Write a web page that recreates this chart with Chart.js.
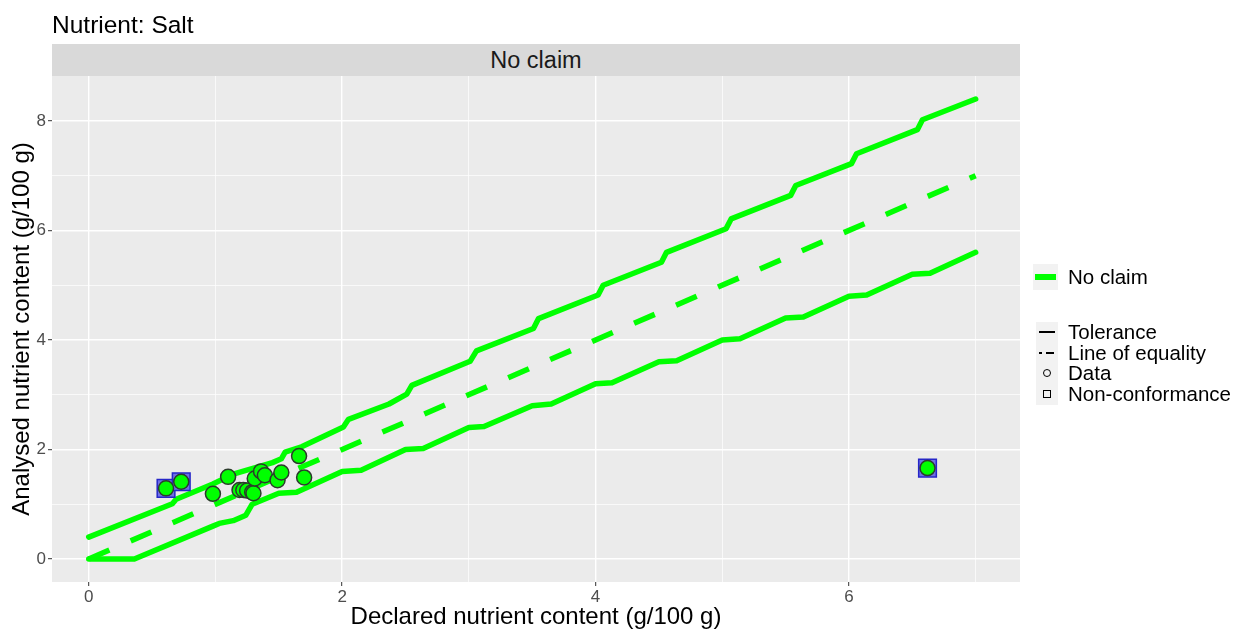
<!DOCTYPE html>
<html>
<head>
<meta charset="utf-8">
<script src="https://cdn.jsdelivr.net/npm/chart.js@4"></script>
<style>
  body { margin: 0; background: #fff; font-family: "Liberation Sans", Arial, sans-serif; }
  #wrap { position: relative; width: 1246px; height: 630px; overflow: hidden; }
  #chart { position: absolute; left: 0; top: 0; }
  .abs { position: absolute; }
  .title { left: 52px; top: 9px; font-size: 24.5px; line-height: 32px; color: #000; }
  .strip { left: 52px; top: 44px; width: 968px; height: 32px; background: #d9d9d9;
           text-align: center; font-size: 23.5px; line-height: 32px; color: #1a1a1a; }
  .lt { left: 1068px; font-size: 20.5px; line-height: 22px; color: #000; white-space: nowrap; }
</style>
</head>
<body>
<div id="wrap">
  <canvas id="chart" width="1246" height="630"></canvas>
  <div class="abs title">Nutrient: Salt</div>
  <div class="abs strip">No claim</div>

  <!-- legend: colour -->
  <div class="abs" style="left:1033px;top:264px;width:25px;height:26px;background:#f2f2f2"></div>
  <div class="abs" style="left:1035px;top:274px;width:21px;height:5.5px;background:#00ff00"></div>
  <div class="abs lt" style="top:266px">No claim</div>

  <!-- legend: line / shape types -->
  <div class="abs" style="left:1036px;top:322px;width:22px;height:83px;background:#f2f2f2"></div>
  <div class="abs" style="left:1039px;top:331px;width:16px;height:2px;background:#000"></div>
  <div class="abs" style="left:1039px;top:352px;width:3px;height:2px;background:#000"></div>
  <div class="abs" style="left:1046px;top:352px;width:8px;height:2px;background:#000"></div>
  <div class="abs" style="left:1043px;top:369px;width:6px;height:6px;border:1.5px solid #000;border-radius:50%"></div>
  <div class="abs" style="left:1043px;top:390px;width:6px;height:6px;border:1.5px solid #000"></div>
  <div class="abs lt" style="top:321px">Tolerance</div>
  <div class="abs lt" style="top:342px">Line of equality</div>
  <div class="abs lt" style="top:362px">Data</div>
  <div class="abs lt" style="top:383px">Non-conformance</div>
</div>

<script>
// measured samples (declared vs analysed, g/100 g)
const declared = [0.98, 1.10, 1.19, 1.22, 1.25, 1.29, 1.30, 1.31, 1.36, 1.39, 1.49, 1.52, 1.66, 1.70, 0.61, 0.73, 6.62];
const analysed = [1.19, 1.50, 1.26, 1.26, 1.25, 1.22, 1.20, 1.47, 1.60, 1.53, 1.44, 1.58, 1.88, 1.49, 1.29, 1.41, 1.66];

// samples outside tolerance
const ncDeclared = [0.61, 0.73, 6.62];
const ncAnalysed = [1.29, 1.41, 1.66];

// tolerance limits
const upperX = [0, 0.66, 0.69, 0.98, 1.14, 1.45, 1.52, 1.55, 1.68, 2.01, 2.05, 2.37, 2.51, 2.55, 3.01, 3.06, 3.51, 3.55, 4.02, 4.06, 4.52, 4.56, 5.03, 5.07, 5.54, 5.58, 6.02, 6.06, 6.54, 6.58, 7.0];
const upperY = [0.40, 1.01, 1.09, 1.37, 1.55, 1.76, 1.83, 1.95, 2.05, 2.41, 2.55, 2.83, 3.01, 3.17, 3.61, 3.80, 4.21, 4.39, 4.82, 5.00, 5.42, 5.60, 6.03, 6.21, 6.64, 6.82, 7.22, 7.40, 7.84, 8.02, 8.40];
const lowerX = [0, 0.36, 0.98, 1.03, 1.14, 1.24, 1.29, 1.50, 1.64, 2.00, 2.15, 2.50, 2.64, 3.00, 3.12, 3.50, 3.65, 4.00, 4.13, 4.50, 4.64, 5.00, 5.14, 5.50, 5.64, 6.00, 6.14, 6.50, 6.64, 7.0];
const lowerY = [0, 0, 0.60, 0.65, 0.70, 0.80, 1.00, 1.20, 1.22, 1.60, 1.62, 2.00, 2.02, 2.40, 2.42, 2.80, 2.83, 3.20, 3.22, 3.60, 3.62, 4.00, 4.02, 4.40, 4.42, 4.80, 4.82, 5.20, 5.22, 5.60];

// line of equality
const eqX = [0, 7];
const eqY = [0, 7];

// grid positions (labels on even values only)
const xTicks = [0, 1, 2, 3, 4, 5, 6, 7];
const yTicks = [0, 1, 2, 3, 4, 5, 6, 7, 8];

const FONT = '"Liberation Sans", Arial, sans-serif';
const GREEN = '#00ff00';

function toXY(xs, ys) {
  return xs.map(function (x, i) { return { x: x, y: ys[i] }; });
}

const panelBg = {
  id: 'panelBg',
  beforeDraw: function (chart) {
    const a = chart.chartArea;
    const ctx = chart.ctx;
    ctx.save();
    ctx.fillStyle = '#ebebeb';
    ctx.fillRect(a.left, a.top, a.right - a.left, a.bottom - a.top);
    ctx.restore();
  }
};

function gridOpts() {
  return {
    color: '#ffffff',
    lineWidth: function (c) { return c.tick && c.tick.value % 2 === 0 ? 1.4 : 0.7; },
    drawTicks: true,
    tickLength: 4,
    tickWidth: 1,
    tickColor: function (c) { return c.tick && c.tick.value % 2 === 0 ? '#333333' : 'rgba(0,0,0,0)'; }
  };
}

new Chart(document.getElementById('chart'), {
  type: 'scatter',
  data: {
    datasets: [
      {
        label: 'Data',
        data: toXY(declared, analysed),
        pointStyle: 'circle',
        pointRadius: 7.5,
        backgroundColor: GREEN,
        borderColor: '#2b3b2b',
        borderWidth: 1.5,
        order: 0
      },
      {
        label: 'Non-conformance',
        data: toXY(ncDeclared, ncAnalysed),
        pointStyle: 'rect',
        pointRadius: 12.5,
        backgroundColor: '#7070e4',
        borderColor: '#2626c8',
        borderWidth: 1.5,
        order: 1
      },
      {
        label: 'Upper tolerance',
        data: toXY(upperX, upperY),
        showLine: true,
        pointRadius: 0,
        borderColor: GREEN,
        borderWidth: 5.5,
        borderJoinStyle: 'round',
        borderCapStyle: 'round',
        order: 2
      },
      {
        label: 'Lower tolerance',
        data: toXY(lowerX, lowerY),
        showLine: true,
        pointRadius: 0,
        borderColor: GREEN,
        borderWidth: 5.5,
        borderJoinStyle: 'round',
        borderCapStyle: 'round',
        order: 2
      },
      {
        label: 'Line of equality',
        data: toXY(eqX, eqY),
        showLine: true,
        pointRadius: 0,
        borderColor: GREEN,
        borderWidth: 5.5,
        borderDash: [22.5, 23.2],
        borderCapStyle: 'butt',
        order: 3
      }
    ]
  },
  options: {
    responsive: false,
    animation: false,
    layout: { padding: { top: 76, right: 226, bottom: 0, left: 0 } },
    plugins: {
      legend: { display: false },
      tooltip: { enabled: false }
    },
    scales: {
      x: {
        type: 'linear',
        min: -0.29,
        max: 7.35,
        afterBuildTicks: function (s) { s.ticks = xTicks.map(function (v) { return { value: v }; }); },
        afterFit: function (s) { s.height = 48; },
        grid: gridOpts(),
        border: { display: false },
        ticks: {
          autoSkip: false,
          maxRotation: 0,
          padding: 1,
          color: '#4d4d4d',
          font: { family: FONT, size: 17 },
          callback: function (v) { return v % 2 === 0 ? String(v) : ''; }
        },
        title: {
          display: true,
          text: 'Declared nutrient content (g/100 g)',
          color: '#000',
          font: { family: FONT, size: 24 },
          padding: { top: 0, bottom: -2 }
        }
      },
      y: {
        type: 'linear',
        min: -0.42,
        max: 8.82,
        afterBuildTicks: function (s) { s.ticks = yTicks.map(function (v) { return { value: v }; }); },
        afterFit: function (s) { s.width = 52; },
        grid: gridOpts(),
        border: { display: false },
        ticks: {
          autoSkip: false,
          padding: 2,
          color: '#4d4d4d',
          font: { family: FONT, size: 17 },
          callback: function (v) { return v % 2 === 0 ? String(v) : ''; }
        },
        title: {
          display: true,
          text: 'Analysed nutrient content (g/100 g)',
          color: '#000',
          font: { family: FONT, size: 24 },
          padding: { top: 8, bottom: 0 }
        }
      }
    }
  },
  plugins: [panelBg]
});
</script>
</body>
</html>
